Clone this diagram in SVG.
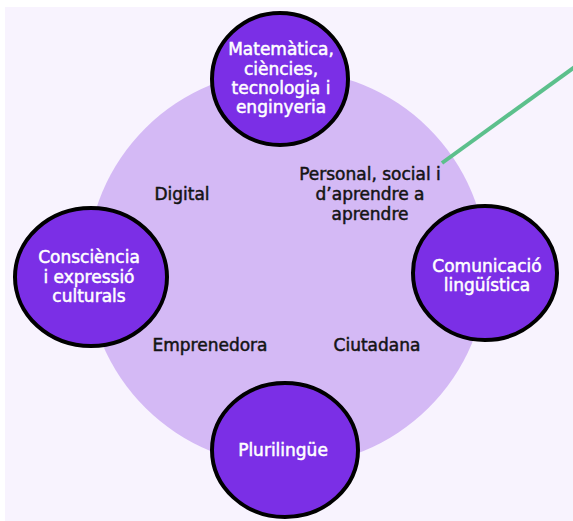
<svg xmlns="http://www.w3.org/2000/svg" width="573" height="521" viewBox="0 0 573 521">
  <style>
    .node { fill: #7b2fe6; stroke: #000000; stroke-width: 4; }
    .nt { font-family: "DejaVu Sans", "Noto Sans", sans-serif; font-size: 17px; fill: #ffffff; text-anchor: middle; stroke: #ffffff; stroke-width: 0.5; }
    .lt { font-family: "DejaVu Sans", "Noto Sans", sans-serif; font-size: 17px; fill: #141414; text-anchor: middle; stroke: #141414; stroke-width: 0.5; }
  </style>
  <rect x="0" y="0" width="573" height="521" fill="#ffffff"/>
  <rect x="5" y="7" width="568" height="514" fill="#f8f3fe"/>
  <g id="hub">
    <ellipse cx="287" cy="268" rx="200" ry="198" fill="#d4b9f5"/>
    <text class="lt" x="182" y="200">Digital</text>
    <text class="lt" x="370" y="180">Personal, social i</text>
    <text class="lt" x="370" y="200">d’aprendre a</text>
    <text class="lt" x="370" y="220">aprendre</text>
    <text class="lt" x="210" y="351">Emprenedora</text>
    <text class="lt" x="377" y="351">Ciutadana</text>
  </g>
  <g id="connectors">
    <line x1="442" y1="163" x2="576" y2="66" stroke="#5cc08c" stroke-width="4"/>
  </g>
  <g id="node-matematica">
    <ellipse class="node" cx="280" cy="79" rx="68" ry="66"/>
    <text class="nt" x="281" y="55">Matemàtica,</text>
    <text class="nt" x="281" y="75">ciències,</text>
    <text class="nt" x="281" y="94">tecnologia i</text>
    <text class="nt" x="281" y="113">enginyeria</text>
  </g>
  <g id="node-consciencia">
    <ellipse class="node" cx="91" cy="277" rx="76" ry="69"/>
    <text class="nt" x="89" y="263">Consciència</text>
    <text class="nt" x="89" y="283">i expressió</text>
    <text class="nt" x="89" y="302">culturals</text>
  </g>
  <g id="node-comunicacio">
    <ellipse class="node" cx="485" cy="273" rx="72" ry="67"/>
    <text class="nt" x="487" y="272">Comunicació</text>
    <text class="nt" x="487" y="291">lingüística</text>
  </g>
  <g id="node-plurilingue">
    <ellipse class="node" cx="285" cy="450" rx="73" ry="67"/>
    <text class="nt" x="283" y="456">Plurilingüe</text>
  </g>
</svg>
